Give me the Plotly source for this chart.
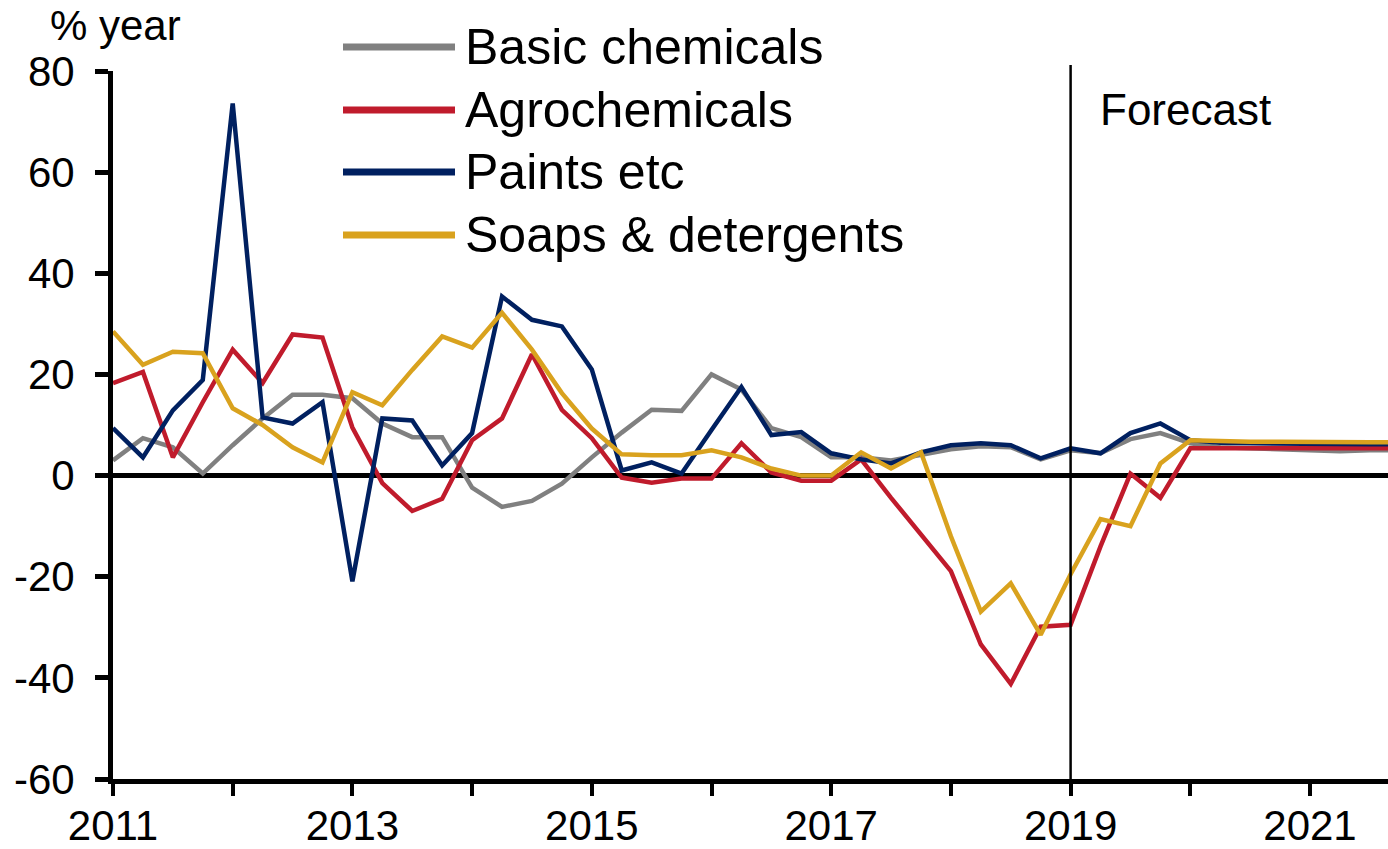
import plotly.graph_objects as go

# Quarterly periods 2011Q1 .. 2021Q4 (decimal years)
quarters = [2011 + 0.25 * i for i in range(44)]

basic_chemicals = [3.0, 7.4, 5.6, 0.4, 6.0, 11.3, 16.0, 16.0, 15.3, 10.3, 7.6, 7.6,
                   -2.4, -6.2, -5.0, -1.6, 3.6, 8.5, 13.0, 12.8, 20.0, 17.0, 9.4, 7.6,
                   3.6, 3.6, 3.0, 4.2, 5.2, 5.8, 5.6, 3.2, 5.0, 4.4, 7.2, 8.4,
                   6.4, 5.6, 5.4, 5.2, 5.0, 4.8, 5.0, 5.0]
agrochemicals = [18.3, 20.5, 3.6, 14.5, 24.9, 18.3, 27.9, 27.3, 9.5, -1.5, -7.0, -4.6,
                 7.0, 11.3, 24.0, 13.0, 7.4, -0.4, -1.4, -0.6, -0.6, 6.4, 0.6, -1.0,
                 -1.0, 3.2, -4.4, -11.6, -18.9, -33.4, -41.2, -29.9, -29.5, -14.0, 0.4, -4.4,
                 5.4, 5.4, 5.4, 5.4, 5.4, 5.4, 5.4, 5.4]
paints = [9.4, 3.6, 12.9, 18.9, 73.6, 11.5, 10.3, 14.5, -20.9, 11.3, 10.9, 2.0,
          8.4, 35.4, 30.8, 29.5, 21.0, 1.0, 2.6, 0.4, 9.0, 17.5, 8.0, 8.6,
          4.4, 3.2, 2.4, 4.6, 6.0, 6.4, 6.0, 3.4, 5.4, 4.4, 8.4, 10.3,
          7.0, 6.5, 6.4, 6.3, 6.2, 6.2, 6.2, 6.2]
soaps = [28.5, 21.9, 24.5, 24.2, 13.3, 10.0, 5.6, 2.6, 16.5, 13.9, 20.9, 27.5,
         25.3, 32.2, 24.9, 16.3, 9.3, 4.2, 4.0, 4.0, 5.0, 3.6, 1.4, 0.0,
         0.0, 4.6, 1.4, 4.6, -12.0, -26.9, -21.3, -31.5, -19.5, -8.6, -10.0, 2.4,
         7.0, 6.8, 6.7, 6.7, 6.6, 6.6, 6.6, 6.6]

series_names = ["Basic chemicals", "Agrochemicals", "Paints etc", "Soaps & detergents"]
series_values = [basic_chemicals, agrochemicals, paints, soaps]
colors = ["#808080", "#C01B2C", "#002060", "#D9A21E"]

x_tick_vals = list(range(2011, 2022))
x_tick_text = ["2011", "", "2013", "", "2015", "", "2017", "", "2019", "", "2021"]
y_tick_vals = [80, 60, 40, 20, 0, -20, -40, -60]
y_tick_text = ["80", "60", "40", "20", "0", "-20", "-40", "-60"]
forecast_start = 2019

FONT = "Liberation Sans, Arial, sans-serif"

fig = go.Figure()
for name, vals, col in zip(series_names, series_values, colors):
    fig.add_trace(go.Scatter(x=quarters, y=vals, mode="lines", name=name,
                             line=dict(color=col, width=4.5), showlegend=False))

# body margin is removed by the post-script below, so the figure fills the page
W, H = 1388, 849
PL, PR, PT, PB = 113, 1388, 71, 779          # plot area in page pixels
L, R, T, B = PL, 0, PT, H - PB
pw, ph = PR - PL, PB - PT

def px_x(px):
    return (px - PL) / pw

def px_y(py):
    return (PB - py) / ph

# manual legend
legend_y = [47, 110, 172, 235]
for name, col, yy in zip(series_names, colors, legend_y):
    fig.add_shape(type="line", xref="paper", yref="paper",
                  x0=px_x(343), x1=px_x(455), y0=px_y(yy), y1=px_y(yy),
                  line=dict(color=col, width=7))
    fig.add_annotation(xref="paper", yref="paper", x=px_x(463), y=px_y(yy),
                       text=name, showarrow=False, xanchor="left", yanchor="middle",
                       font=dict(family=FONT, size=50, color="black"))

# forecast divider
fig.add_shape(type="line", xref="x", yref="paper", x0=forecast_start, x1=forecast_start,
              y0=0, y1=px_y(65), line=dict(color="black", width=2.5), layer="above")
fig.add_annotation(xref="paper", yref="paper", x=px_x(1098), y=px_y(110),
                   text="Forecast", showarrow=False, xanchor="left", yanchor="middle",
                   font=dict(family=FONT, size=44, color="black"))
fig.add_annotation(xref="paper", yref="paper", x=px_x(49), y=px_y(26),
                   text="% year", showarrow=False, xanchor="left", yanchor="middle",
                   borderpad=0,
                   font=dict(family=FONT, size=42, color="black"))

fig.update_layout(
    width=W, height=H,
    margin=dict(l=L, r=R, t=T, b=B, autoexpand=False),
    paper_bgcolor="white", plot_bgcolor="white",
    font=dict(family=FONT, size=42, color="black"),
    xaxis=dict(range=[2011, 2011 + pw / 119.7], tickvals=x_tick_vals, ticktext=x_tick_text,
               automargin=False,
               showgrid=False, zeroline=False, showline=True, linecolor="black", linewidth=5,
               ticks="outside", ticklen=12, tickwidth=4, tickcolor="black",
               ticklabelstandoff=-6,
               tickfont=dict(family=FONT, size=42, color="black")),
    yaxis=dict(range=[-60, 80], tickvals=y_tick_vals, ticktext=y_tick_text,
               automargin=False,
               showgrid=False, zeroline=True, zerolinecolor="black", zerolinewidth=5,
               showline=True, linecolor="black", linewidth=5,
               ticks="outside", ticklen=13, tickwidth=5, tickcolor="black",
               ticklabelstandoff=12,
               tickfont=dict(family=FONT, size=42, color="black")),
)

fig.write_html("out.html",
               config={"displayModeBar": False},
               post_script="document.body.style.margin='0';document.body.style.overflow='hidden';")
